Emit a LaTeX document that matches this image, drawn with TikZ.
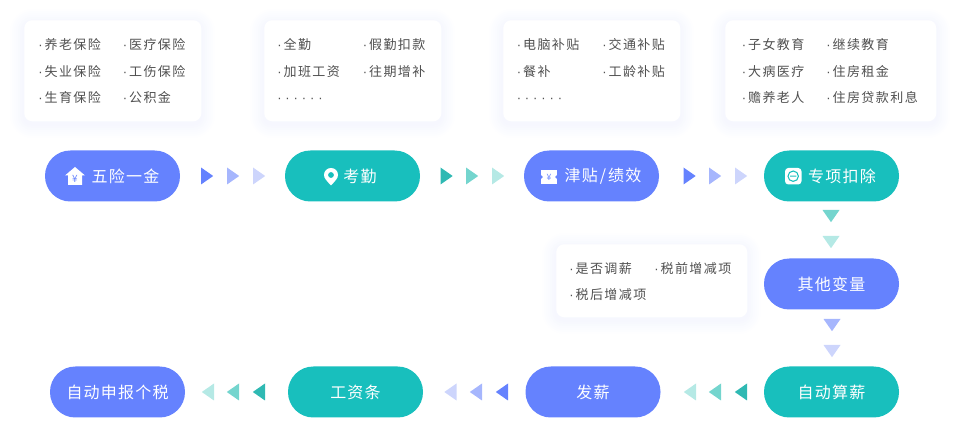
\documentclass[tikz,border=0pt]{standalone}
\usepackage{fontspec}
\setmainfont{Noto Sans CJK SC}
\newfontfamily\cardfont[LetterSpace=11]{Noto Sans CJK SC}
\newfontfamily\pillfont[LetterSpace=7.5]{Noto Sans CJK SC}
\newfontfamily\dotfont[LetterSpace=30]{Liberation Sans}
\newcommand{\dotmark}{{\dotfont ·}\kern1.5pt}
\definecolor{pillblue}{HTML}{6582FE}
\definecolor{blueb}{HTML}{A6B6FD}
\definecolor{bluec}{HTML}{CDD5FC}
\definecolor{pillteal}{HTML}{18BFBD}
\definecolor{teala}{HTML}{2FB9B3}
\definecolor{tealb}{HTML}{74D5CE}
\definecolor{tealc}{HTML}{B5E9E5}
\definecolor{cardtext}{HTML}{505050}
\definecolor{cardglow}{HTML}{8FA2F5}
\tikzset{
  pill/.style={fill=#1, draw=none, rounded corners=19pt, minimum width=101.25pt, minimum height=38.25pt, inner sep=0pt},
  pilltext/.style={text=white, inner sep=0pt, font=\pillfont\fontsize{12}{14}\selectfont},
  card/.style={fill=white, draw=none, rounded corners=6pt, anchor=north west, inner sep=0pt},
  cardglowing/.style={fill=cardglow, opacity=0.012},
  item/.style={text=cardtext, anchor=base west, inner sep=0pt, font=\cardfont\fontsize{9.75}{12}\selectfont}
}
\begin{document}
\begin{tikzpicture}[x=0.75pt, y=-0.75pt]
\useasboundingbox (0,0) rectangle (967,448);
\foreach \cardname/\xa/\ya/\wid/\hei in {wuxian/24/20/177/101, kaoqin/264/20/177/101, jintie/503/20/177/101, zhuanxiang/725/20/211/101, bianliang/556/244/191/73}
{
  \foreach \s in {1,...,7}
    \fill[cardglowing, rounded corners=6pt+1.5pt*\s] (\xa-2*\s,\ya-2*\s+3) rectangle (\xa+\wid+2*\s,\ya+\hei+2*\s+3);
  \node[card, minimum width=\wid*0.75pt, minimum height=\hei*0.75pt] (\cardname) at (\xa,\ya) {};
}
\foreach \name/\px/\py/\txt in {
  a1/38/44/养老保险, a2/122.5/44/医疗保险, a3/38/71/失业保险, a4/122.5/71/工伤保险, a5/38/97/生育保险, a6/122.5/97/公积金,
  b1/277/44/全勤, b2/362.5/44/假勤扣款, b3/277/71/加班工资, b4/362.5/71/往期增补,
  c1/516.5/44/电脑补贴, c2/602/44/交通补贴, c3/516.5/71/餐补, c4/602/71/工龄补贴,
  d1/741.5/44/子女教育, d2/826/44/继续教育, d3/741.5/71/大病医疗, d4/826/71/住房租金, d5/741.5/97/赡养老人, d6/826/97/住房贷款利息,
  e1/569/268/是否调薪, e2/654/268/税前增减项, e3/569/294/税后增减项}
  \node[item] (\name) at (\px,\py+5.5) {\dotmark\txt};
\foreach \name/\px in {b5/277, c5/516.5}
  \node[item] (\name) at (\px,102.5) {\dotfont ······};
\foreach \name/\px/\py/\farbe/\off/\txt in {
  wuxianpill/112.5/176/pillblue/13/五险一金, kaoqinpill/352.5/176/pillteal/7.5/考勤, jintiepill/591.5/176/pillblue/11.5/{津贴\kern1.5pt/\kern1.5pt绩效}, zhuanxiangpill/831.5/176/pillteal/10.5/专项扣除,
  qitapill/831.5/284/pillblue/0/其他变量, suanxinpill/831.5/392/pillteal/0/自动算薪, faxinpill/593/392/pillblue/0/发薪, gongzipill/355.5/392/pillteal/0/工资条, shenbaopill/117.5/392/pillblue/0/自动申报个税}
{
  \node[pill=\farbe] (\name) at (\px,\py) {};
  \node[pilltext] (\name text) at ([xshift=\off*0.75pt]\name.center) {\txt};
}
\foreach \px/\py/\ang/\farbe in {
  207/176/0/pillblue, 233/176/0/blueb, 259/176/0/bluec,
  446.5/176/0/teala, 472/176/0/tealb, 498/176/0/tealc,
  689.5/176/0/pillblue, 715/176/0/blueb, 741/176/0/bluec,
  831/216/-90/tealb, 831/242/-90/tealc, 832/325/-90/blueb, 832/351/-90/bluec,
  741/392/180/teala, 715/392/180/tealb, 690/392/180/tealc,
  502/392/180/pillblue, 476/392/180/blueb, 450.5/392/180/bluec,
  259/392/180/teala, 233/392/180/tealb, 208/392/180/tealc}
  \fill[\farbe, shift={(\px,\py)}, rotate=\ang] (-6,-8.5) -- (6.2,0) -- (-6,8.5) -- cycle;
\fill[white] (75,167) -- (85,175.5) -- (82,175.5) -- (82,185) -- (68,185) -- (68,175.5) -- (65,175.5) -- cycle;
\node[text=pillblue, inner sep=0pt, font=\fontsize{7.5}{8}\selectfont] (houseyen) at (75,178.5) {¥};
\fill[white] (331,185.5) .. controls (327,181) and (324,178.5) .. (324,175) .. controls (324,171) and (327,168) .. (331,168) .. controls (335,168) and (338,171) .. (338,175) .. controls (338,178.5) and (335,181) .. (331,185.5) -- cycle;
\fill[pillteal] (331,175) circle (2.9);
\fill[white] (541,170) rectangle (557,184);
\fill[pillblue] (541,177) circle (1.8) (557,177) circle (1.8);
\node[text=pillblue, inner sep=0pt, font=\fontsize{6.5}{7}\selectfont] (ticketyen) at (549,177) {¥};
\fill[white, rounded corners=2.5pt] (785,168) rectangle (801.5,184.5);
\draw[pillteal, line width=0.8pt] (793.2,176.2) circle (5.2) (790,176.2) -- (796.4,176.2);
\end{tikzpicture}
\end{document}
